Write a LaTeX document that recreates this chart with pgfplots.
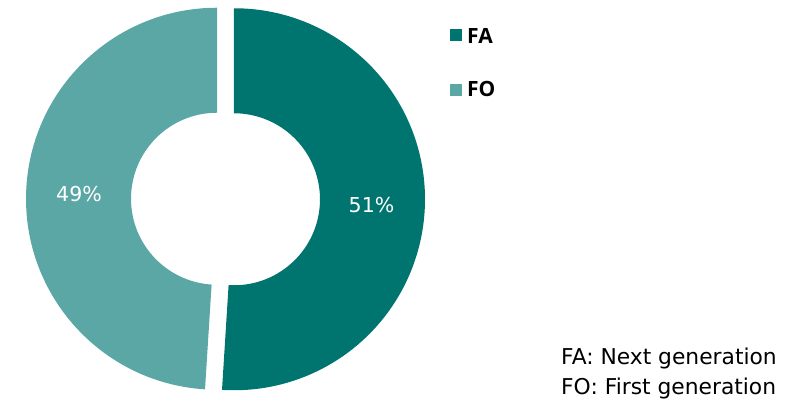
\documentclass[border=0pt]{standalone}
\usepackage{pgfplots}
\pgfplotsset{compat=1.18}
\usepackage{pgfplotstable}
\usepackage{fontspec}
\setmainfont{Open Sans}
\newfontfamily\dvfont{DejaVu Sans}
\definecolor{faColor}{HTML}{00746F}
\definecolor{foColor}{HTML}{5BA7A6}
\pgfplotstableread{
label value
FA 51
FO 49
}\shares
\begin{document}
\begin{tikzpicture}
\pgfplotstablegetelem{0}{value}\of\shares \let\vFA\pgfplotsretval
\pgfplotstablegetelem{1}{value}\of\shares \let\vFO\pgfplotsretval
\pgfmathsetmacro\aA{90}
\pgfmathsetmacro\aB{90-3.6*\vFA}
\pgfmathsetmacro\aC{\aB-3.6*\vFO}
\pgfmathsetmacro\mA{(\aA+\aB)/2}
\pgfmathsetmacro\mB{(\aB+\aC)/2}
\begin{axis}[name=ax, scale only axis, width=785pt, height=401pt,
  xmin=0, xmax=785, ymin=0, ymax=401, hide axis, clip=false]
\fill[faColor, shift={(axis cs:225.5,202)}, shift={(\mA:8.5pt)}]
  (\aA:191pt) arc[start angle=\aA, end angle=\aB, radius=191pt]
  -- (\aB:86pt) arc[start angle=\aB, end angle=\aA, radius=86pt] -- cycle;
\fill[foColor, shift={(axis cs:225.5,202)}, shift={(\mB:8.5pt)}]
  (\aB:191pt) arc[start angle=\aB, end angle=\aC, radius=191pt]
  -- (\aC:86pt) arc[start angle=\aC, end angle=\aB, radius=86pt] -- cycle;
\addplot[draw=none, nodes near coords, point meta=explicit symbolic,
  nodes near coords style={white, anchor=base, font=\dvfont\fontsize{20.5}{20.5}\selectfont}]
  coordinates {(371.5,188.3) [51\%] (79,199) [49\%]};
\fill[faColor] (axis cs:450,360) rectangle (axis cs:462,372);
\fill[foColor] (axis cs:450,305) rectangle (axis cs:462,317);
\node[anchor=base west, font=\bfseries\fontsize{21}{21}\selectfont, inner sep=0pt] at (axis cs:467,357.7) {FA};
\node[anchor=base west, font=\bfseries\fontsize{21}{21}\selectfont, inner sep=0pt] at (axis cs:467,304) {FO};
\node[anchor=base west, font=\dvfont\fontsize{21.8}{21.8}\selectfont, inner sep=0pt] at (axis cs:561,36) {FA: Next generation};
\node[anchor=base west, font=\dvfont\fontsize{21.8}{21.8}\selectfont, inner sep=0pt] at (axis cs:561,6) {FO: First generation};
\end{axis}
\pgfresetboundingbox
\useasboundingbox (ax.south west) rectangle (ax.north east);
\end{tikzpicture}
\end{document}
